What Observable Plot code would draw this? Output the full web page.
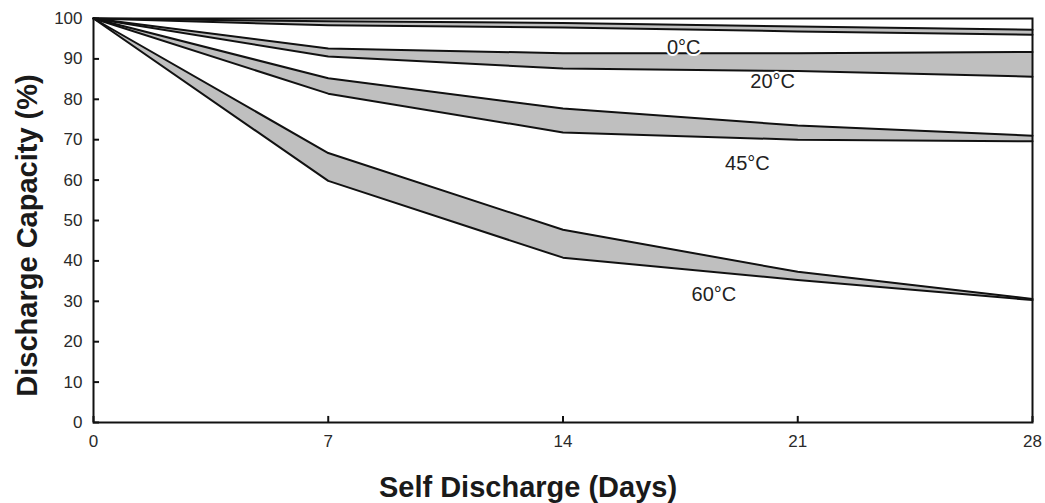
<!DOCTYPE html>
<html>
<head>
<meta charset="utf-8">
<script src="https://cdn.jsdelivr.net/npm/d3@7"></script>
<script src="https://cdn.jsdelivr.net/npm/@observablehq/plot@0.6"></script>
<style>
  html, body { margin: 0; padding: 0; background: #ffffff; }
  #chart svg { display: block; }
</style>
</head>
<body>
<div id="chart"></div>
<script>
// Storage days at which capacity was measured
const days = [0, 7, 14, 21, 28];

// Remaining capacity (%) — upper and lower edge of each temperature band
const upper0C  = [100, 99.3, 98.9, 98.0, 97.2];
const lower0C  = [100, 98.3, 97.8, 96.8, 96.0];
const upper20C = [100, 92.6, 91.4, 91.4, 91.7];
const lower20C = [100, 90.6, 87.6, 87.0, 85.6];
const upper45C = [100, 85.2, 77.7, 73.5, 71.0];
const lower45C = [100, 81.4, 71.8, 70.0, 69.6];
const upper60C = [100, 66.7, 47.7, 37.3, 30.6];
const lower60C = [100, 59.8, 40.8, 35.3, 30.3];

// Band names and where each name is written
const bandNames   = ["0°C", "20°C", "45°C", "60°C"];
const labelDays   = [17.6, 20.25, 19.5, 18.5];
const labelValues = [92.8, 84.4, 64.1, 31.7];

// Axis ticks
const xTicks = [0, 7, 14, 21, 28];
const yTicks = [0, 10, 20, 30, 40, 50, 60, 70, 80, 90, 100];

const uppers = [upper0C, upper20C, upper45C, upper60C];
const lowers = [lower0C, lower20C, lower45C, lower60C];

const rows = bandNames.flatMap((band, b) =>
  days.map((day, i) => ({band, day, hi: uppers[b][i], lo: lowers[b][i]}))
);
const labels = bandNames.map((name, b) => ({name, day: labelDays[b], value: labelValues[b]}));

const font = "'Liberation Sans Narrow', 'Liberation Sans', Arial, sans-serif";
const titleFont = "'Liberation Sans', Arial, sans-serif";

const chart = Plot.plot({
  width: 1045,
  height: 503,
  marginTop: 18,
  marginRight: 13,
  marginBottom: 81,
  marginLeft: 93,
  style: {fontFamily: font, background: "#ffffff"},
  x: {domain: [0, 28]},
  y: {domain: [0, 100]},
  marks: [
    Plot.areaY(rows, {x: "day", y1: "lo", y2: "hi", z: "band", fill: "#bfbfbf"}),
    Plot.line(rows, {x: "day", y: "hi", z: "band", stroke: "#111", strokeWidth: 2}),
    Plot.line(rows, {x: "day", y: "lo", z: "band", stroke: "#111", strokeWidth: 2}),
    // short inward tick marks along the left and bottom edges
    Plot.ruleY(yTicks, {x1: 0, x2: 0.18, stroke: "#111", strokeWidth: 2}),
    Plot.ruleX(xTicks, {y1: 0, y2: 1.5, stroke: "#111", strokeWidth: 2}),
    Plot.frame({stroke: "#111", strokeWidth: 2}),
    Plot.axisX({ticks: xTicks, tickSize: 0, tickPadding: 12, label: null,
                fontSize: 17, fill: "#2a2a2a", tickFormat: d => String(d)}),
    Plot.axisY({ticks: yTicks, tickSize: 0, tickPadding: 11, label: null,
                fontSize: 17, fill: "#2a2a2a", tickFormat: d => String(d)}),
    Plot.text(labels, {x: "day", y: "value", text: "name", fontSize: 20, fill: "#222",
                       stroke: "white", strokeWidth: 4, fontFamily: titleFont}),
    Plot.text(["Discharge Capacity (%)"], {frameAnchor: "left", rotate: -90, dx: -66, dy: 15,
                       textAnchor: "middle", lineAnchor: "middle", fontSize: 29, fontWeight: "bold",
                       fill: "#1a1a1a", fontFamily: titleFont}),
    Plot.text(["Self Discharge (Days)"], {frameAnchor: "bottom", dx: -35, dy: 65,
                       textAnchor: "middle", lineAnchor: "middle", fontSize: 29, fontWeight: "bold",
                       fill: "#1a1a1a", fontFamily: titleFont})
  ]
});

document.getElementById("chart").appendChild(chart);
</script>
</body>
</html>
